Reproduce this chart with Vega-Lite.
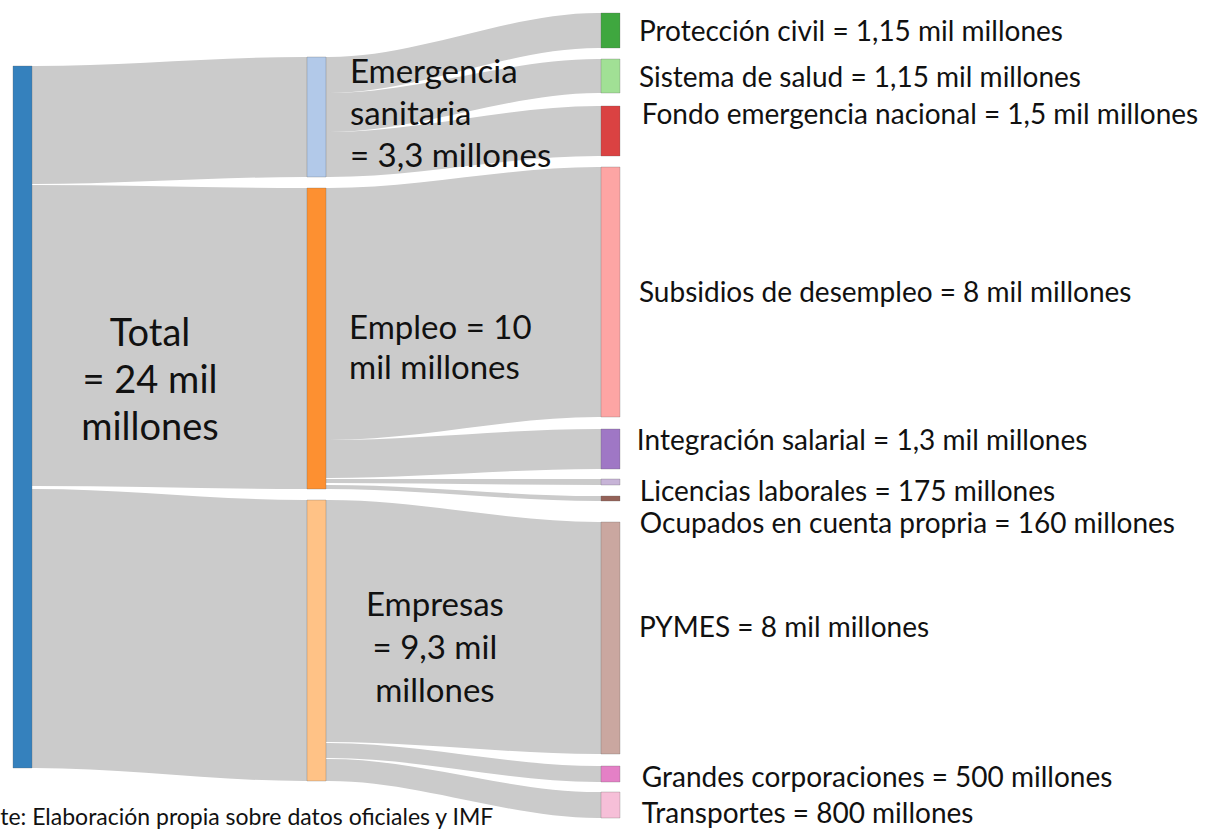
{
  "$schema": "https://vega.github.io/schema/vega-lite/v6.json",
  "width": 1218,
  "height": 829,
  "autosize": {"type": "none"},
  "padding": 0,
  "background": "white",
  "config": {"view": {"stroke": null}},
  "datasets": {
    "links": [
      {"link": "Total-Emergencia", "x": 0.0646, "y": 66, "y2": 184},
      {"link": "Total-Emergencia", "x": 0.075, "y": 66, "y2": 184},
      {"link": "Total-Emergencia", "x": 0.99, "y": 57, "y2": 177},
      {"link": "Total-Emergencia", "x": 1.0, "y": 57, "y2": 177},
      {"link": "Total-Empleo", "x": 0.0646, "y": 185, "y2": 486},
      {"link": "Total-Empleo", "x": 0.075, "y": 185, "y2": 486},
      {"link": "Total-Empleo", "x": 0.99, "y": 188, "y2": 489},
      {"link": "Total-Empleo", "x": 1.0, "y": 188, "y2": 489},
      {"link": "Total-Empresas", "x": 0.0646, "y": 489, "y2": 768},
      {"link": "Total-Empresas", "x": 0.075, "y": 489, "y2": 768},
      {"link": "Total-Empresas", "x": 0.99, "y": 500, "y2": 781},
      {"link": "Total-Empresas", "x": 1.0, "y": 500, "y2": 781},
      {"link": "Emergencia-Proteccion", "x": 1.0646, "y": 57, "y2": 93},
      {"link": "Emergencia-Proteccion", "x": 1.075, "y": 57, "y2": 93},
      {"link": "Emergencia-Proteccion", "x": 1.99, "y": 13, "y2": 48},
      {"link": "Emergencia-Proteccion", "x": 2.0, "y": 13, "y2": 48},
      {"link": "Emergencia-Salud", "x": 1.0646, "y": 93, "y2": 132},
      {"link": "Emergencia-Salud", "x": 1.075, "y": 93, "y2": 132},
      {"link": "Emergencia-Salud", "x": 1.99, "y": 59, "y2": 93},
      {"link": "Emergencia-Salud", "x": 2.0, "y": 59, "y2": 93},
      {"link": "Emergencia-Fondo", "x": 1.0646, "y": 132, "y2": 177},
      {"link": "Emergencia-Fondo", "x": 1.075, "y": 132, "y2": 177},
      {"link": "Emergencia-Fondo", "x": 1.99, "y": 106, "y2": 156},
      {"link": "Emergencia-Fondo", "x": 2.0, "y": 106, "y2": 156},
      {"link": "Empleo-Subsidios", "x": 1.0646, "y": 188, "y2": 440},
      {"link": "Empleo-Subsidios", "x": 1.075, "y": 188, "y2": 440},
      {"link": "Empleo-Subsidios", "x": 1.99, "y": 167, "y2": 417},
      {"link": "Empleo-Subsidios", "x": 2.0, "y": 167, "y2": 417},
      {"link": "Empleo-Integracion", "x": 1.0646, "y": 440, "y2": 478},
      {"link": "Empleo-Integracion", "x": 1.075, "y": 440, "y2": 478},
      {"link": "Empleo-Integracion", "x": 1.99, "y": 429, "y2": 469},
      {"link": "Empleo-Integracion", "x": 2.0, "y": 429, "y2": 469},
      {"link": "Empleo-Licencias", "x": 1.0646, "y": 479, "y2": 483},
      {"link": "Empleo-Licencias", "x": 1.075, "y": 479, "y2": 483},
      {"link": "Empleo-Licencias", "x": 1.99, "y": 479, "y2": 485},
      {"link": "Empleo-Licencias", "x": 2.0, "y": 479, "y2": 485},
      {"link": "Empleo-Ocupados", "x": 1.0646, "y": 485, "y2": 489},
      {"link": "Empleo-Ocupados", "x": 1.075, "y": 485, "y2": 489},
      {"link": "Empleo-Ocupados", "x": 1.99, "y": 496, "y2": 501},
      {"link": "Empleo-Ocupados", "x": 2.0, "y": 496, "y2": 501},
      {"link": "Empresas-PYMES", "x": 1.0646, "y": 500, "y2": 742},
      {"link": "Empresas-PYMES", "x": 1.075, "y": 500, "y2": 742},
      {"link": "Empresas-PYMES", "x": 1.99, "y": 522, "y2": 754},
      {"link": "Empresas-PYMES", "x": 2.0, "y": 522, "y2": 754},
      {"link": "Empresas-Grandes", "x": 1.0646, "y": 743, "y2": 758},
      {"link": "Empresas-Grandes", "x": 1.075, "y": 743, "y2": 758},
      {"link": "Empresas-Grandes", "x": 1.99, "y": 766, "y2": 782},
      {"link": "Empresas-Grandes", "x": 2.0, "y": 766, "y2": 782},
      {"link": "Empresas-Transportes", "x": 1.0646, "y": 759, "y2": 781},
      {"link": "Empresas-Transportes", "x": 1.075, "y": 759, "y2": 781},
      {"link": "Empresas-Transportes", "x": 1.99, "y": 792, "y2": 818},
      {"link": "Empresas-Transportes", "x": 2.0, "y": 792, "y2": 818}
    ],
    "nodes": [
      {"name": "Total", "x": 0, "x2": 0.0646, "y": 66, "y2": 768},
      {"name": "Emergencia sanitaria", "x": 1, "x2": 1.0646, "y": 57, "y2": 177},
      {"name": "Empleo", "x": 1, "x2": 1.0646, "y": 188, "y2": 489},
      {"name": "Empresas", "x": 1, "x2": 1.0646, "y": 500, "y2": 781},
      {"name": "Protección civil", "x": 2, "x2": 2.0646, "y": 13, "y2": 48},
      {"name": "Sistema de salud", "x": 2, "x2": 2.0646, "y": 59, "y2": 93},
      {"name": "Fondo emergencia nacional", "x": 2, "x2": 2.0646, "y": 106, "y2": 156},
      {"name": "Subsidios de desempleo", "x": 2, "x2": 2.0646, "y": 167, "y2": 417},
      {"name": "Integración salarial", "x": 2, "x2": 2.0646, "y": 429, "y2": 469},
      {"name": "Licencias laborales", "x": 2, "x2": 2.0646, "y": 479, "y2": 485},
      {"name": "Ocupados en cuenta propria", "x": 2, "x2": 2.0646, "y": 496, "y2": 501},
      {"name": "PYMES", "x": 2, "x2": 2.0646, "y": 522, "y2": 754},
      {"name": "Grandes corporaciones", "x": 2, "x2": 2.0646, "y": 766, "y2": 782},
      {"name": "Transportes", "x": 2, "x2": 2.0646, "y": 792, "y2": 818}
    ]
  },
  "layer": [
    {
      "data": {"name": "links"},
      "mark": {"type": "area", "interpolate": "monotone", "color": "#cbcbcb", "opacity": 1},
      "encoding": {
        "x": {"field": "x", "type": "quantitative", "scale": {"domain": [-0.0442, 4.0986], "nice": false, "zero": false}, "axis": null},
        "y": {"field": "y", "type": "quantitative", "scale": {"domain": [0, 829], "nice": false, "zero": false, "reverse": true}, "axis": null},
        "y2": {"field": "y2"},
        "detail": {"field": "link", "type": "nominal"}
      }
    },
    {
      "data": {"name": "nodes"},
      "mark": {"type": "rect", "stroke": "#555555", "strokeWidth": 0.6, "strokeOpacity": 0.45, "opacity": 0.95},
      "encoding": {
        "x": {"field": "x", "type": "quantitative", "scale": {"domain": [-0.0442, 4.0986], "nice": false, "zero": false}, "axis": null},
        "x2": {"field": "x2"},
        "y": {"field": "y", "type": "quantitative", "scale": {"domain": [0, 829], "nice": false, "zero": false, "reverse": true}, "axis": null},
        "y2": {"field": "y2"},
        "color": {
          "field": "name", "type": "nominal", "legend": null,
          "scale": {
            "domain": ["Total", "Emergencia sanitaria", "Empleo", "Empresas", "Protección civil", "Sistema de salud", "Fondo emergencia nacional", "Subsidios de desempleo", "Integración salarial", "Licencias laborales", "Ocupados en cuenta propria", "PYMES", "Grandes corporaciones", "Transportes"],
            "range": ["#2b7bba", "#aec7e8", "#fd8b27", "#ffbf80", "#35a335", "#9ddf90", "#d93838", "#fda1a0", "#9a70c2", "#c5b0d5", "#8f5a50", "#c8a39b", "#e37ac4", "#f6bcd6"]
          }
        }
      }
    },
    {
      "data": {"values": [{"label": ["Total", "= 24 mil", "millones"], "x": 0.466, "y": 335}]},
      "mark": {"type": "text", "align": "center", "baseline": "middle", "font": "Lato", "fontSize": 38, "lineHeight": 47, "color": "#111111"},
      "encoding": {
        "x": {"field": "x", "type": "quantitative", "scale": {"domain": [-0.0442, 4.0986], "nice": false, "zero": false}, "axis": null},
        "y": {"field": "y", "type": "quantitative", "scale": {"domain": [0, 829], "nice": false, "zero": false, "reverse": true}, "axis": null},
        "text": {"field": "label"}
      }
    },
    {
      "data": {"values": [
        {"label": ["Emergencia", "sanitaria", "= 3,3 millones"], "x": 1.146, "y": 73}
      ]},
      "mark": {"type": "text", "align": "left", "baseline": "middle", "font": "Lato", "fontSize": 33, "lineHeight": 42, "color": "#111111"},
      "encoding": {
        "x": {"field": "x", "type": "quantitative", "scale": {"domain": [-0.0442, 4.0986], "nice": false, "zero": false}, "axis": null},
        "y": {"field": "y", "type": "quantitative", "scale": {"domain": [0, 829], "nice": false, "zero": false, "reverse": true}, "axis": null},
        "text": {"field": "label"}
      }
    },
    {
      "data": {"values": [
        {"label": ["Empleo = 10", "mil millones"], "x": 1.143, "y": 329}
      ]},
      "mark": {"type": "text", "align": "left", "baseline": "middle", "font": "Lato", "fontSize": 33, "lineHeight": 40, "color": "#111111"},
      "encoding": {
        "x": {"field": "x", "type": "quantitative", "scale": {"domain": [-0.0442, 4.0986], "nice": false, "zero": false}, "axis": null},
        "y": {"field": "y", "type": "quantitative", "scale": {"domain": [0, 829], "nice": false, "zero": false, "reverse": true}, "axis": null},
        "text": {"field": "label"}
      }
    },
    {
      "data": {"values": [{"label": ["Empresas", "= 9,3 mil", "millones"], "x": 1.435, "y": 606}]},
      "mark": {"type": "text", "align": "center", "baseline": "middle", "font": "Lato", "fontSize": 33, "lineHeight": 43, "color": "#111111"},
      "encoding": {
        "x": {"field": "x", "type": "quantitative", "scale": {"domain": [-0.0442, 4.0986], "nice": false, "zero": false}, "axis": null},
        "y": {"field": "y", "type": "quantitative", "scale": {"domain": [0, 829], "nice": false, "zero": false, "reverse": true}, "axis": null},
        "text": {"field": "label"}
      }
    },
    {
      "data": {"values": [
        {"label": "Protección civil = 1,15 mil millones", "x": 2.129, "y": 33},
        {"label": "Sistema de salud = 1,15 mil millones", "x": 2.129, "y": 79},
        {"label": "Fondo emergencia nacional = 1,5 mil millones", "x": 2.139, "y": 116},
        {"label": "Subsidios de desempleo = 8 mil millones", "x": 2.129, "y": 294},
        {"label": "Integración salarial = 1,3 mil millones", "x": 2.122, "y": 442},
        {"label": "Licencias laborales = 175 millones", "x": 2.132, "y": 493},
        {"label": "Ocupados en cuenta propria = 160 millones", "x": 2.132, "y": 525},
        {"label": "PYMES = 8 mil millones", "x": 2.129, "y": 629},
        {"label": "Grandes corporaciones = 500 millones", "x": 2.139, "y": 779},
        {"label": "Transportes = 800 millones", "x": 2.139, "y": 815}
      ]},
      "mark": {"type": "text", "align": "left", "baseline": "middle", "font": "Lato", "fontSize": 28, "color": "#111111"},
      "encoding": {
        "x": {"field": "x", "type": "quantitative", "scale": {"domain": [-0.0442, 4.0986], "nice": false, "zero": false}, "axis": null},
        "y": {"field": "y", "type": "quantitative", "scale": {"domain": [0, 829], "nice": false, "zero": false, "reverse": true}, "axis": null},
        "text": {"field": "label"}
      }
    },
    {
      "data": {"values": [{"label": "te: Elaboración propia sobre datos oficiales y IMF", "x": -0.0435, "y": 818}]},
      "mark": {"type": "text", "align": "left", "baseline": "middle", "font": "Lato", "fontSize": 23, "color": "#111111"},
      "encoding": {
        "x": {"field": "x", "type": "quantitative", "scale": {"domain": [-0.0442, 4.0986], "nice": false, "zero": false}, "axis": null},
        "y": {"field": "y", "type": "quantitative", "scale": {"domain": [0, 829], "nice": false, "zero": false, "reverse": true}, "axis": null},
        "text": {"field": "label"}
      }
    }
  ]
}
